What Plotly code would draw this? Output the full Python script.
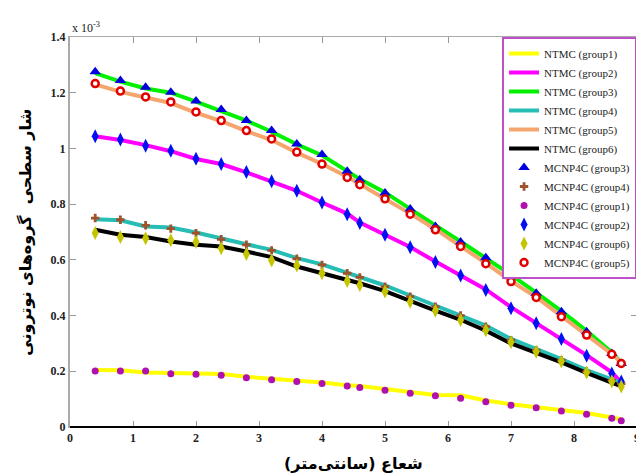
import plotly.graph_objects as go

# Radius (cm)
x = [0.4, 0.8, 1.2, 1.6, 2.0, 2.4, 2.8, 3.2, 3.6, 4.0, 4.4, 4.6, 5.0, 5.4,
     5.8, 6.2, 6.6, 7.0, 7.4, 7.8, 8.2, 8.6, 8.75]

# NTMC (lines), values x 1e-3
ntmc_g1 = [0.205, 0.204, 0.196, 0.193, 0.192, 0.190, 0.180, 0.174, 0.166, 0.160, 0.150, 0.147,
           0.136, 0.124, 0.115, 0.114, 0.095, 0.082, 0.072, 0.060, 0.050, 0.034, 0.028]
ntmc_g2 = [1.044, 1.030, 1.012, 0.990, 0.962, 0.944, 0.914, 0.882, 0.848, 0.806, 0.766, 0.734,
           0.690, 0.646, 0.594, 0.546, 0.494, 0.430, 0.374, 0.318, 0.258, 0.196, 0.160]
ntmc_g3 = [1.270, 1.240, 1.215, 1.200, 1.168, 1.135, 1.100, 1.060, 1.015, 0.975, 0.920, 0.890,
           0.842, 0.785, 0.724, 0.666, 0.608, 0.546, 0.482, 0.416, 0.345, 0.268, 0.232]
ntmc_g4 = [0.746, 0.742, 0.720, 0.716, 0.698, 0.676, 0.656, 0.636, 0.606, 0.584, 0.554, 0.540,
           0.508, 0.472, 0.436, 0.402, 0.364, 0.316, 0.280, 0.244, 0.204, 0.170, 0.158]
ntmc_g5 = [1.230, 1.203, 1.183, 1.163, 1.128, 1.098, 1.062, 1.030, 0.985, 0.944, 0.898, 0.872,
           0.822, 0.766, 0.710, 0.650, 0.588, 0.524, 0.466, 0.398, 0.332, 0.262, 0.232]
ntmc_g6 = [0.708, 0.690, 0.682, 0.666, 0.654, 0.648, 0.630, 0.610, 0.576, 0.552, 0.530, 0.516,
           0.488, 0.452, 0.418, 0.385, 0.346, 0.300, 0.266, 0.232, 0.194, 0.160, 0.146]

# MCNP4C (markers), values x 1e-3
mcnp_g1 = [0.201, 0.201, 0.201, 0.191, 0.189, 0.186, 0.177, 0.170, 0.163, 0.156, 0.147, 0.142,
           0.132, 0.121, 0.112, 0.103, 0.091, 0.078, 0.069, 0.057, 0.046, 0.031, 0.022]
mcnp_g2 = [1.044, 1.032, 1.010, 0.992, 0.963, 0.944, 0.915, 0.882, 0.848, 0.806, 0.764, 0.732,
           0.690, 0.645, 0.592, 0.544, 0.492, 0.426, 0.372, 0.316, 0.256, 0.192, 0.163]
mcnp_g3 = [1.275, 1.244, 1.220, 1.202, 1.170, 1.140, 1.100, 1.064, 1.016, 0.978, 0.918, 0.888,
           0.840, 0.783, 0.720, 0.664, 0.608, 0.546, 0.480, 0.414, 0.342, 0.264, 0.228]
mcnp_g4 = [0.750, 0.744, 0.724, 0.712, 0.696, 0.674, 0.654, 0.634, 0.604, 0.582, 0.552, 0.537,
           0.504, 0.468, 0.432, 0.400, 0.360, 0.312, 0.276, 0.240, 0.199, 0.168, 0.156]
mcnp_g5 = [1.233, 1.206, 1.185, 1.167, 1.131, 1.100, 1.064, 1.034, 0.987, 0.944, 0.896, 0.870,
           0.819, 0.764, 0.708, 0.648, 0.586, 0.522, 0.465, 0.396, 0.330, 0.261, 0.228]
mcnp_g6 = [0.696, 0.682, 0.678, 0.670, 0.664, 0.642, 0.621, 0.598, 0.580, 0.552, 0.524, 0.510,
           0.486, 0.450, 0.417, 0.384, 0.347, 0.304, 0.270, 0.235, 0.196, 0.163, 0.145]

x_ticks = [0, 1, 2, 3, 4, 5, 6, 7, 8, 9]
y_ticks = [0, 0.2, 0.4, 0.6, 0.8, 1.0, 1.2, 1.4]

x_title = "شعاع (سانتی‌متر)"
y_title = "شار سطحی  گروه‌های نوترونی"

fig = go.Figure()

lines = [
    ("NTMC (group1)", ntmc_g1, "#FFFF00"),
    ("NTMC (group2)", ntmc_g2, "#FF00FF"),
    ("NTMC (group3)", ntmc_g3, "#00F000"),
    ("NTMC (group4)", ntmc_g4, "#26BDB5"),
    ("NTMC (group5)", ntmc_g5, "#F4A66E"),
    ("NTMC (group6)", ntmc_g6, "#000000"),
]
for name, ys, col in lines:
    fig.add_trace(go.Scatter(x=x, y=ys, mode="lines", name=name,
                             line=dict(color=col, width=4)))

markers = [
    ("MCNP4C (group3)", mcnp_g3, dict(symbol="triangle-up", size=10, color="#0000E0")),
    ("MCNP4C (group4)", mcnp_g4, dict(symbol="cross", size=7, color="#A0522D")),
    ("MCNP4C (group1)", mcnp_g1, dict(symbol="circle", size=7, color="#B010B0")),
    ("MCNP4C (group2)", mcnp_g2, dict(symbol="diamond-tall", size=10, color="#0010F0")),
    ("MCNP4C (group6)", mcnp_g6, dict(symbol="diamond-tall", size=10, color="#C4C400")),
    ("MCNP4C (group5)", mcnp_g5, dict(symbol="circle", size=7, color="#FFFFFF",
                                      line=dict(color="#E00000", width=2.5))),
]
for name, ys, mk in markers:
    fig.add_trace(go.Scatter(x=x, y=ys, mode="markers", name=name, marker=mk))

tickfont = dict(family="Liberation Serif", size=12, color="#222222", weight="bold")

fig.update_layout(
    width=644, height=476,
    margin=dict(l=62, r=12, t=29, b=57),
    paper_bgcolor="white", plot_bgcolor="white",
    showlegend=True,
    legend=dict(x=0.762, y=1.0, xanchor="left", yanchor="top",
                bgcolor="white", bordercolor="#C050C8", borderwidth=2,
                font=dict(family="Liberation Serif", size=11, color="#222222"),
                tracegroupgap=0, itemwidth=30),
    xaxis=dict(range=[0, 9], tickvals=x_ticks, ticks="inside", ticklen=6,
               tickcolor="#999999", showline=True, linecolor="#AAAAAA", linewidth=1,
               mirror="ticks", showgrid=False, zeroline=False, automargin=True,
               tickfont=tickfont),
    yaxis=dict(range=[0, 1.4], tickvals=y_ticks, ticks="inside", ticklen=6,
               tickcolor="#999999", showline=True, linecolor="#AAAAAA", linewidth=2,
               mirror="ticks", showgrid=False, zeroline=False, automargin=False,
               tickfont=tickfont),
    shapes=[dict(type="line", xref="paper", yref="paper", x0=0, x1=1, y0=0, y1=0,
                 line=dict(color="#000000", width=2))],
    annotations=[
        dict(text="x 10<sup>-3</sup>", xref="paper", yref="paper",
             x=0.0, y=1.0, xanchor="left", yanchor="bottom", showarrow=False,
             font=dict(family="Liberation Serif", size=12, color="#222222")),
        dict(text="<b>" + x_title + "</b>", xref="paper", yref="paper",
             x=0.5, y=-0.094, xanchor="center", yanchor="middle", showarrow=False,
             font=dict(family="DejaVu Sans", size=16, color="#000000")),
        dict(text="<b>" + y_title + "</b>", xref="paper", yref="paper",
             x=-0.08, y=0.5, xanchor="center", yanchor="middle", showarrow=False,
             textangle=-90,
             font=dict(family="DejaVu Sans", size=16, color="#000000")),
    ],
)

fig.write_html("out.html")
